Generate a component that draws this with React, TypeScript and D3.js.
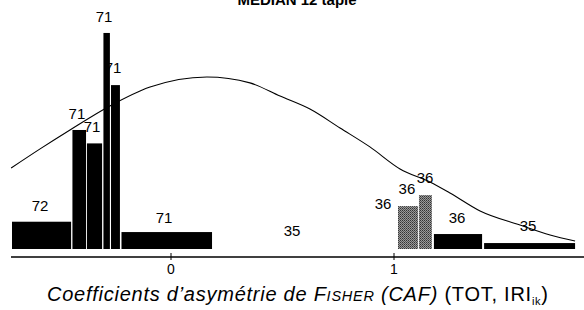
import React from "react";
import * as d3 from "d3";

// Histogram bins (CAF value interval) and heights (arbitrary frequency units)
const binStart = [-0.713, -0.442, -0.377, -0.303, -0.269, -0.222, 1.018, 1.112, 1.179, 1.404];
const binEnd = [-0.448, -0.381, -0.309, -0.274, -0.229, 0.184, 1.108, 1.170, 1.395, 1.812];
const binHeight = [12.4, 54.1, 48.0, 98.2, 74.5, 7.7, 19.5, 24.5, 6.8, 2.7];
const binHatched = [false, false, false, false, false, false, true, true, false, false];

// Count labels (annotations)
const labelText = ["72", "71", "71", "71", "71", "71", "35", "36", "36", "36", "36", "35"];
const labelX = [-0.587, -0.422, -0.354, -0.300, -0.260, -0.031, 0.543, 0.951, 1.058, 1.139, 1.283, 1.601];
const labelY = [20, 61.8, 55.9, 105.5, 82.3, 14.5, 8.2, 20.5, 27.3, 32.7, 14.5, 10.9];

// Fitted density curve
const curveX = [-0.717, -0.587, -0.453, -0.274, -0.094, 0.161, 0.354, 0.489, 0.623, 0.758, 0.892, 1.027, 1.161, 1.251, 1.386, 1.565, 1.7, 1.812];
const curveY = [36.8, 45.5, 54.1, 65.0, 73.6, 78.2, 75.5, 69.5, 63.6, 55.0, 46.4, 36.4, 30.5, 25.5, 17.3, 10.9, 6.4, 3.6];

const tickValues = [0, 1];
const tickLabels = ["0", "1"];
const titleText = "MEDIAN 12 taple";

export default function App() {
  const W = 584, H = 310;
  const x = d3.scaleLinear().domain([0, 1]).range([171, 394]);
  const y = d3.scaleLinear().domain([0, 100]).range([249, 29]);
  const axisY = 257;

  const line = d3
    .line<number>()
    .x((_, i) => x(curveX[i]))
    .y((d) => y(d))
    .curve(d3.curveMonotoneX);

  const font = "'Liberation Sans', Arial, sans-serif";

  return (
    <svg
      width={W}
      height={H}
      style={{ position: "absolute", left: 0, top: 0, background: "#fff" }}
      fontFamily={font}
    >
      <defs>
        <pattern id="stip" width="2" height="2" patternUnits="userSpaceOnUse">
          <rect width="2" height="2" fill="#9a9a9a" />
          <rect width="1" height="1" fill="#333" />
          <rect x="1" y="1" width="1" height="1" fill="#555" />
        </pattern>
      </defs>
      <rect width={W} height={H} fill="#fff" />
      <text x={297} y={5} textAnchor="middle" fontSize={15} fontWeight="bold" fill="#000">
        {titleText}
      </text>

      {binHeight.map((h, i) => {
        const x0 = x(binStart[i]);
        const x1 = x(binEnd[i]);
        return (
          <rect
            key={i}
            x={x0}
            y={y(h)}
            width={Math.max(0, x1 - x0)}
            height={y(0) - y(h)}
            fill={binHatched[i] ? "url(#stip)" : "#000"}
          />
        );
      })}

      <path d={line(curveY) || ""} fill="none" stroke="#000" strokeWidth={1.1} />

      {labelText.map((t, i) => (
        <text
          key={i}
          x={x(labelX[i])}
          y={y(labelY[i])}
          textAnchor="middle"
          dominantBaseline="central"
          fontSize={15}
          fill="#000"
        >
          {t}
        </text>
      ))}

      <line x1={11} x2={584} y1={axisY} y2={axisY} stroke="#000" strokeWidth={1.3} />
      {tickValues.map((v, i) => (
        <g key={i}>
          <line x1={x(v)} x2={x(v)} y1={axisY - 4} y2={axisY + 3} stroke="#000" strokeWidth={1} />
          <text x={x(v)} y={axisY + 12} textAnchor="middle" dominantBaseline="central" fontSize={14} fill="#000">
            {tickLabels[i]}
          </text>
        </g>
      ))}

      <text x={47} y={301} fontSize={20} fill="#000" textLength={501} lengthAdjust="spacing">
        <tspan fontStyle="italic">Coefficients d’asymétrie de </tspan>
        <tspan fontStyle="italic">F</tspan>
        <tspan fontStyle="italic" fontSize={14.5}>ISHER</tspan>
        <tspan fontStyle="italic"> (CAF)</tspan>
        <tspan> (TOT, IRI</tspan>
        <tspan fontSize={11} dy={4}>ik</tspan>
        <tspan dy={-4}>)</tspan>
      </text>
    </svg>
  );
}
